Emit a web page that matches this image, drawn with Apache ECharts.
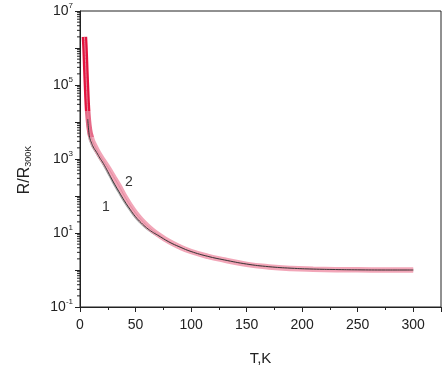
<!DOCTYPE html>
<html>
<head>
  <meta charset="UTF-8">
  <script src="https://cdn.jsdelivr.net/npm/echarts@6.0.0/dist/echarts.min.js"></script>
  <style>
    body { margin: 0; padding: 0; background: #ffffff; }
    #chart { width: 444px; height: 372px; }
  </style>
</head>
<body>
  <div id="chart"></div>
  <script>
    // temperature (K) and normalized resistance R/R300K
    const temp2 = [4, 4.5, 5, 5.5, 6, 6.5, 7, 8, 9, 10, 11, 12, 15, 18, 21, 25, 30, 35, 40, 45, 50, 55, 60, 65, 70, 80, 90, 100, 115, 130, 150, 170, 190, 210, 230, 250, 275, 300];
    const ratio2 = [2.0e6, 1.0e6, 4.0e5, 1.6e5, 7.1e4, 3.2e4, 1.8e4, 8.3e3, 5.2e3, 4.0e3, 3.2e3, 2.7e3, 1.8e3, 1.25e3, 910, 600, 340, 190, 100, 57.5, 34.7, 22.9, 16.2, 12.0, 9.3, 5.9, 4.17, 3.16, 2.34, 1.86, 1.42, 1.21, 1.1, 1.05, 1.02, 1.01, 1.0, 1.0];

    const temp1 = [7, 8, 9, 10, 12, 15, 18, 21, 25, 30, 35, 40, 45, 50, 55, 60, 65, 70, 80, 90, 100, 115, 130, 150, 170, 190, 210, 230, 250, 275, 300];
    const ratio1 = [1.2e4, 5.2e3, 3.5e3, 2.9e3, 2.1e3, 1.5e3, 1.05e3, 760, 460, 240, 132, 74, 44, 27.5, 19, 13.8, 10.7, 8.7, 5.75, 4.17, 3.16, 2.34, 1.87, 1.45, 1.23, 1.12, 1.06, 1.03, 1.01, 1.0, 1.0];

    // log axis minor ticks (2..9 in every decade)
    const decades = [0.1, 1, 10, 100, 1e3, 1e4, 1e5, 1e6];
    const minorSteps = [2, 3, 4, 5, 6, 7, 8, 9];

    const xTicks = [0, 50, 100, 150, 200, 250, 300];
    const yLabelExps = ['-1', '1', '3', '5', '7'];

    const pairs = (xs, ys) => xs.map((x, i) => [x, ys[i]]);
    const minorTicks = [];
    decades.forEach(d => minorSteps.forEach(k => minorTicks.push([0, d * k])));

    const font = 'Liberation Sans';

    const chart = echarts.init(document.getElementById('chart'));

    const option = {
      animation: false,
      grid: {
        left: 80, right: 3, top: 11, bottom: 65,
        show: true, borderColor: '#222', borderWidth: 1
      },
      xAxis: {
        type: 'value',
        min: 0, max: 325, interval: 50,
        name: 'T,K',
        nameLocation: 'middle',
        nameGap: 44,
        nameTextStyle: { fontFamily: font, fontSize: 15, color: '#222' },
        axisLine: { lineStyle: { color: '#222', width: 1 } },
        axisTick: { length: 5, lineStyle: { color: '#222' } },
        minorTick: { show: true, splitNumber: 2, length: 3, lineStyle: { color: '#222' } },
        splitLine: { show: false },
        axisLabel: {
          fontFamily: font, fontSize: 14, color: '#222', margin: 11,
          formatter: v => (xTicks.indexOf(v) >= 0 ? String(v) : '')
        }
      },
      yAxis: {
        type: 'log',
        logBase: 10,
        min: 0.1, max: 1e7,
        splitNumber: 8,
        axisLine: { show: true, lineStyle: { color: '#222', width: 1 } },
        axisTick: { show: true, length: 5, lineStyle: { color: '#222' } },
        splitLine: { show: false },
        axisLabel: {
          fontFamily: font, fontSize: 14, color: '#222', margin: 7,
          formatter: v => {
            const e = String(Math.round(Math.log10(v)));
            return yLabelExps.indexOf(e) >= 0 ? '{b|10}{s|' + e + '}' : '';
          },
          rich: {
            b: { fontFamily: font, fontSize: 14, color: '#222' },
            s: { fontFamily: font, fontSize: 8, color: '#222', padding: [0, 0, 10, 0] }
          }
        }
      },
      visualMap: [{
        show: false,
        type: 'piecewise',
        seriesIndex: 1,
        dimension: 1,
        pieces: [
          { gt: 2e4, color: '#e2153f' },
          { gt: 4e3, lte: 2e4, color: '#e66a88' },
          { lte: 4e3, color: '#f2a6b8' }
        ]
      }],
      series: [
        {
          name: '1 band', type: 'line', data: pairs(temp1, ratio1),
          showSymbol: false, smooth: 0.45, silent: true,
          lineStyle: { color: '#a8a8a8', width: 3 }
        },
        {
          name: '2', type: 'line', data: pairs(temp2, ratio2),
          showSymbol: false, smooth: 0.45, silent: true,
          lineStyle: { width: 5.5 }
        },
        {
          name: '2 core', type: 'line', data: pairs(temp2, ratio2),
          showSymbol: false, smooth: 0.45, silent: true,
          lineStyle: { color: '#e58aa0', width: 1 }
        },
        {
          name: '1', type: 'line', data: pairs(temp1, ratio1),
          showSymbol: false, smooth: 0.45, silent: true,
          lineStyle: { color: '#3a3a3a', width: 1 }
        },
        {
          name: 'minor ticks', type: 'custom', data: minorTicks,
          silent: true, clip: false,
          renderItem: (params, api) => {
            const p = api.coord([api.value(0), api.value(1)]);
            return {
              type: 'line',
              shape: { x1: p[0] - 3, y1: p[1], x2: p[0], y2: p[1] },
              style: { stroke: '#222', lineWidth: 1 }
            };
          }
        }
      ],
      graphic: [
        {
          type: 'text', x: 25, y: 170, rotation: Math.PI / 2,
          style: {
            text: '{a|R/R}{b|300K}',
            align: 'center', verticalAlign: 'middle',
            rich: {
              a: { fontFamily: font, fontSize: 16, fill: '#222' },
              b: { fontFamily: font, fontSize: 9, fill: '#222', padding: [8, 0, 0, 0] }
            }
          }
        },
        {
          type: 'text', x: 106, y: 207,
          style: { text: '1', fontFamily: font, fontSize: 14, fill: '#333', align: 'center', verticalAlign: 'middle' }
        },
        {
          type: 'text', x: 129, y: 182,
          style: { text: '2', fontFamily: font, fontSize: 14, fill: '#333', align: 'center', verticalAlign: 'middle' }
        }
      ]
    };

    chart.setOption(option);
  </script>
</body>
</html>
